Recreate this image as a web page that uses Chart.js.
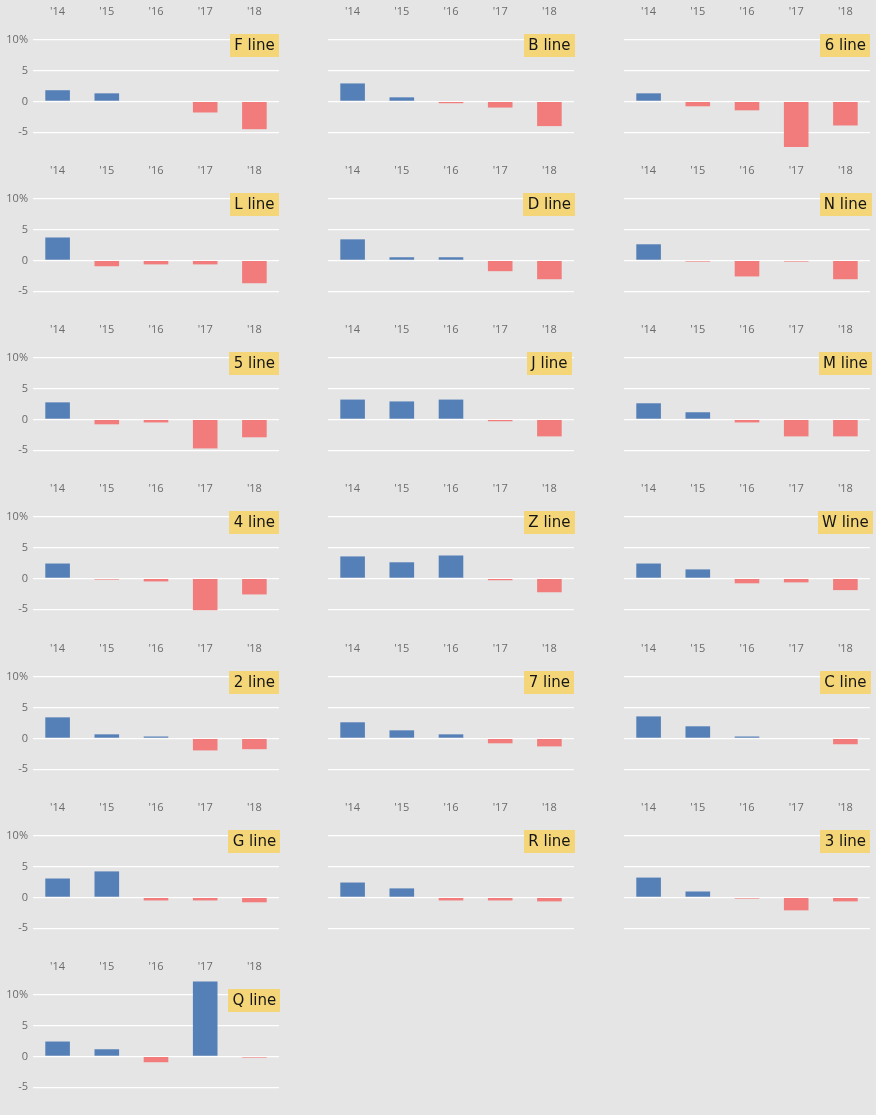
<!DOCTYPE html>
<html>
<head>
<meta charset="utf-8">
<script src="https://cdn.jsdelivr.net/npm/chart.js@4/dist/chart.umd.min.js"></script>
<style>
  html, body { margin: 0; padding: 0; background: #e5e5e5; }
  #wrap { position: relative; width: 876px; height: 1115px; background: #e5e5e5; overflow: hidden; }
  #wrap canvas { position: absolute; }
</style>
</head>
<body>
<div id="wrap"></div>
<script>
// ---- data ----
const years = ["'14", "'15", "'16", "'17", "'18"];
const yTicks = [-5, 0, 5, 10];

const fLine = [1.8, 1.3, 0, -1.8, -4.5];
const bLine = [2.9, 0.65, -0.3, -1.0, -4.0];
const sixLine = [1.3, -0.8, -1.45, -7.4, -3.9];
const lLine = [3.7, -0.95, -0.65, -0.65, -3.7];
const dLine = [3.4, 0.5, 0.5, -1.75, -3.05];
const nLine = [2.6, -0.2, -2.6, -0.2, -3.05];
const fiveLine = [2.75, -0.8, -0.5, -4.7, -2.9];
const jLine = [3.2, 2.9, 3.2, -0.3, -2.75];
const mLine = [2.6, 1.15, -0.5, -2.75, -2.75];
const fourLine = [2.4, -0.2, -0.5, -5.15, -2.6];
const zLine = [3.55, 2.6, 3.7, -0.3, -2.25];
const wLine = [2.4, 1.45, -0.8, -0.65, -1.9];
const twoLine = [3.4, 0.65, 0.3, -1.95, -1.75];
const sevenLine = [2.6, 1.3, 0.65, -0.8, -1.3];
const cLine = [3.55, 1.95, 0.3, 0, -0.95];
const gLine = [3.05, 4.2, -0.5, -0.5, -0.8];
const rLine = [2.4, 1.45, -0.5, -0.5, -0.65];
const threeLine = [3.2, 0.95, -0.2, -2.1, -0.65];
const qLine = [2.4, 1.15, -0.95, 12.1, -0.2];

const panelNames = ["F line", "B line", "6 line", "L line", "D line", "N line", "5 line", "J line", "M line",
                    "4 line", "Z line", "W line", "2 line", "7 line", "C line", "G line", "R line", "3 line", "Q line"];
const panelValues = [fLine, bLine, sixLine, lLine, dLine, nLine, fiveLine, jLine, mLine,
                     fourLine, zLine, wLine, twoLine, sevenLine, cLine, gLine, rLine, threeLine, qLine];

// ---- styling / layout ----
const BLUE = '#557fb7';
const RED = '#f17c7b';
const colLeft = [0, 295, 591];
const rowTop = [0, 159, 318, 477, 637, 796, 955];
const CW = 285, CH = 160;

const labelPlugin = {
  id: 'panelLabel',
  afterDatasetsDraw(chart, args, opts) {
    const ctx = chart.ctx;
    const x = chart.scales.x.getPixelForValue(4);
    const y = chart.scales.y.getPixelForValue(9);
    ctx.save();
    ctx.font = '15px "DejaVu Sans", sans-serif';
    const w = ctx.measureText(opts.text).width + 8.5;
    const h = 23;
    ctx.fillStyle = '#f4d679';
    ctx.fillRect(Math.round(x - w / 2), Math.round(y - h / 2), Math.round(w), h);
    ctx.fillStyle = '#151515';
    ctx.textAlign = 'center';
    ctx.textBaseline = 'middle';
    ctx.fillText(opts.text, x, y + 0.5);
    ctx.restore();
  }
};

const wrap = document.getElementById('wrap');
panelNames.forEach((name, i) => {
  const r = Math.floor(i / 3), c = i % 3;
  const cv = document.createElement('canvas');
  cv.width = CW; cv.height = CH;
  cv.style.left = colLeft[c] + 'px';
  cv.style.top = rowTop[r] + 'px';
  cv.style.width = CW + 'px';
  cv.style.height = CH + 'px';
  wrap.appendChild(cv);

  new Chart(cv, {
    type: 'bar',
    data: {
      labels: years,
      datasets: [{
        data: panelValues[i],
        backgroundColor: (ctx) => (ctx.raw >= 0 ? BLUE : RED),
        borderWidth: 0,
        barPercentage: 0.5,
        categoryPercentage: 1.0
      }]
    },
    plugins: [labelPlugin],
    options: {
      responsive: false,
      animation: false,
      devicePixelRatio: 1,
      layout: { padding: { left: 0, right: 6, top: 0, bottom: 3 } },
      plugins: {
        legend: { display: false },
        tooltip: { enabled: false },
        panelLabel: { text: name }
      },
      scales: {
        x: {
          position: 'top',
          grid: { display: false, drawTicks: false },
          border: { display: false },
          ticks: { color: '#6b6b6b', font: { family: '"Open Sans", sans-serif', size: 11 }, padding: 3, maxRotation: 0 },
          afterFit(scale) {
            scale.height = 21;
            scale.paddingLeft = 0; scale.paddingRight = 0;
          }
        },
        y: {
          min: -9, max: 13,
          grid: { color: '#ffffff', lineWidth: 1.3, drawTicks: false },
          border: { display: false },
          afterBuildTicks(scale) { scale.ticks = yTicks.map(v => ({ value: v })); },
          ticks: {
            display: c === 0,
            color: '#6b6b6b',
            font: { family: '"Open Sans", sans-serif', size: 11 },
            padding: 5,
            callback: (v) => (v === 10 ? '10%' : String(v))
          },
          afterFit(scale) {
            scale.width = 33;
            scale.paddingTop = 0; scale.paddingBottom = 0;
          }
        }
      }
    }
  });
});
</script>
</body>
</html>
